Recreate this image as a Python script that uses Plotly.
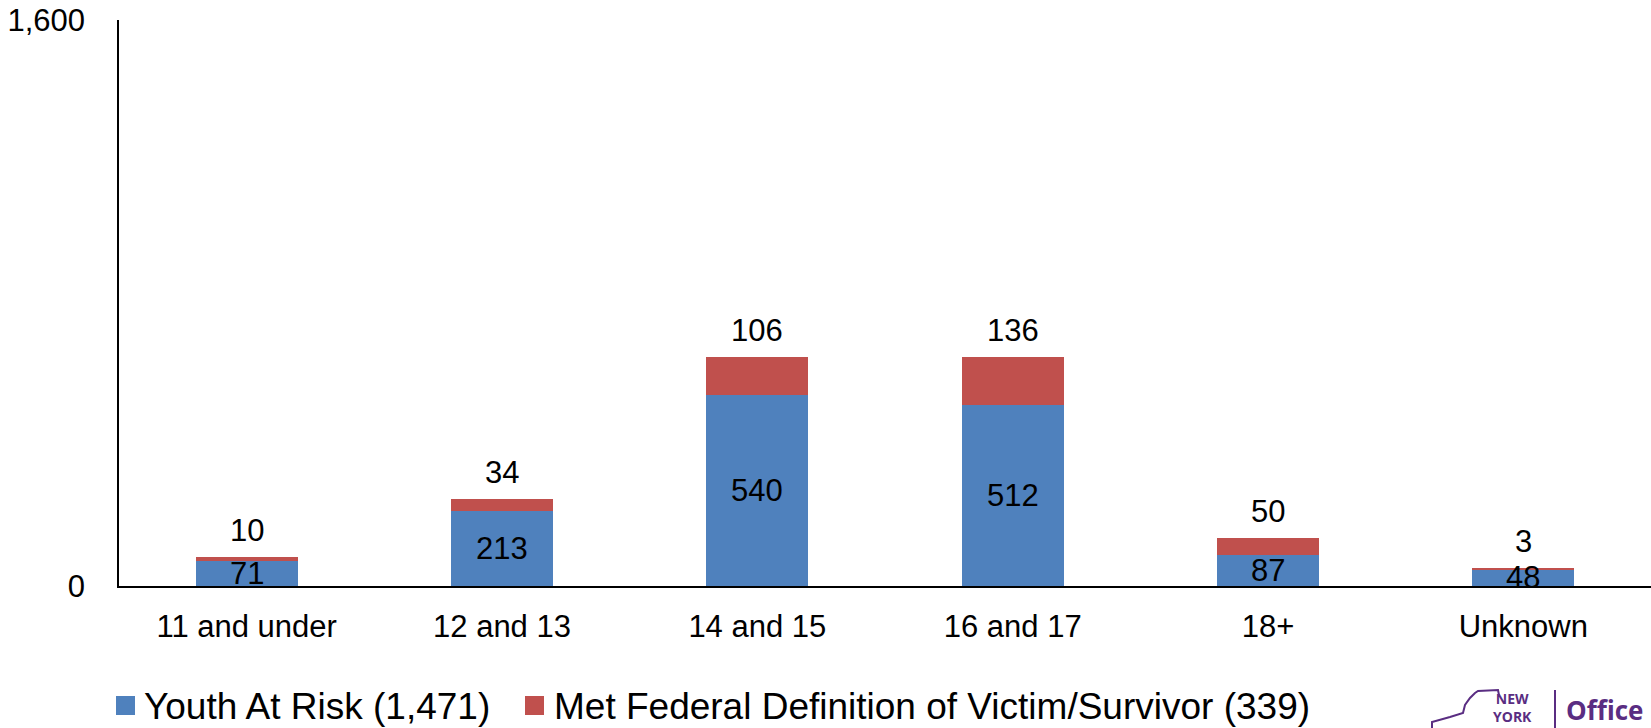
import plotly.graph_objects as go

categories = ["11 and under", "12 and 13", "14 and 15", "16 and 17", "18+", "Unknown"]
youth_at_risk = [71, 213, 540, 512, 87, 48]
met_federal = [10, 34, 106, 136, 50, 3]
series_names = ["Youth At Risk (1,471)", "Met Federal Definition of Victim/Survivor (339)"]
y_ticks = [0, 1600]
y_tick_labels = ["0", "1,600"]

BLUE = "#4F81BD"
RED = "#C0504D"
PURPLE = "#5A2D82"
FONT = "Liberation Sans, Arial, sans-serif"

W, H = 1651, 728
L, T, B_PX = 119, 20, 586
PW, PH = W - L, B_PX - T


def px(xp):
    return (xp - L) / PW


def py(yp):
    return (B_PX - yp) / PH


fig = go.Figure()
fig.add_trace(go.Bar(x=categories, y=youth_at_risk, name=series_names[0],
                     marker=dict(color=BLUE, line=dict(width=0)), showlegend=False))
fig.add_trace(go.Bar(x=categories, y=met_federal, name=series_names[1],
                     marker=dict(color=RED, line=dict(width=0)), showlegend=False))

annotations = []
for c, a, b in zip(categories, youth_at_risk, met_federal):
    annotations.append(dict(x=c, y=a / 2, text=str(a), showarrow=False,
                            xref="x", yref="y", yanchor="middle",
                            font=dict(size=31, color="black", family=FONT)))
    annotations.append(dict(x=c, y=a + b, text=str(b), showarrow=False,
                            xref="x", yref="y", yanchor="bottom", yshift=7,
                            font=dict(size=31, color="black", family=FONT)))

shapes = []
# Custom legend
legend_items = [(series_names[0], BLUE, 116, 145), (series_names[1], RED, 525, 555)]
for name, col, sx, tx in legend_items:
    shapes.append(dict(type="rect", xref="paper", yref="paper",
                       x0=px(sx), x1=px(sx + 19), y0=py(696), y1=py(715),
                       fillcolor=col, line=dict(width=0)))
    annotations.append(dict(x=px(tx - 3), y=py(706), xref="paper", yref="paper", text=name,
                            showarrow=False, xanchor="left", yanchor="middle",
                            font=dict(size=37, color="black", family=FONT)))

# Logo
annotations.append(dict(x=px(1512), y=py(707), xref="paper", yref="paper",
                        text="<b>NEW<br>YORK</b>", align="center", borderpad=0,
                        showarrow=False, xanchor="center", yanchor="middle",
                        font=dict(size=14, color=PURPLE, family="Open Sans")))
annotations.append(dict(x=px(1564), y=py(710), xref="paper", yref="paper", text="<b>Office</b>",
                        showarrow=False, xanchor="left", yanchor="middle",
                        font=dict(size=26, color=PURPLE, family="Open Sans")))

outline = [(1432, 728), (1432, 722), (1450, 717), (1463, 713), (1465, 705), (1470, 698),
           (1475, 693), (1478, 691), (1498, 690), (1499, 695)]
path = "M " + " L ".join(f"{px(a):.5f},{py(b):.5f}" for a, b in outline)
shapes.append(dict(type="path", path=path, xref="paper", yref="paper",
                   line=dict(color=PURPLE, width=2)))
shapes.append(dict(type="line", xref="paper", yref="paper", x0=px(1555), x1=px(1555),
                   y0=py(690), y1=py(728), line=dict(color=PURPLE, width=2)))

fig.update_layout(
    width=W, height=H,
    margin=dict(l=L, r=0, t=T, b=H - B_PX, pad=0, autoexpand=False),
    barmode="stack",
    bargap=0.6,
    plot_bgcolor="white", paper_bgcolor="white",
    font=dict(family=FONT, size=31, color="black"),
    showlegend=False,
    annotations=annotations,
    shapes=shapes,
)
fig.update_xaxes(showline=True, linecolor="black", linewidth=1.5, ticks="",
                 tickfont=dict(size=31, family=FONT), ticklabelstandoff=12,
                 showgrid=False, automargin=False)
fig.update_yaxes(range=[0, 1600], tickvals=y_ticks, ticktext=y_tick_labels,
                 showline=True, linecolor="black", linewidth=1.5, ticks="",
                 showgrid=False, zeroline=False, ticklabelstandoff=26,
                 tickfont=dict(size=31, family=FONT), automargin=False)

fig.write_html("out.html", config={"displayModeBar": False},
               post_script="document.body.style.margin='0';document.body.style.overflow='hidden';")
